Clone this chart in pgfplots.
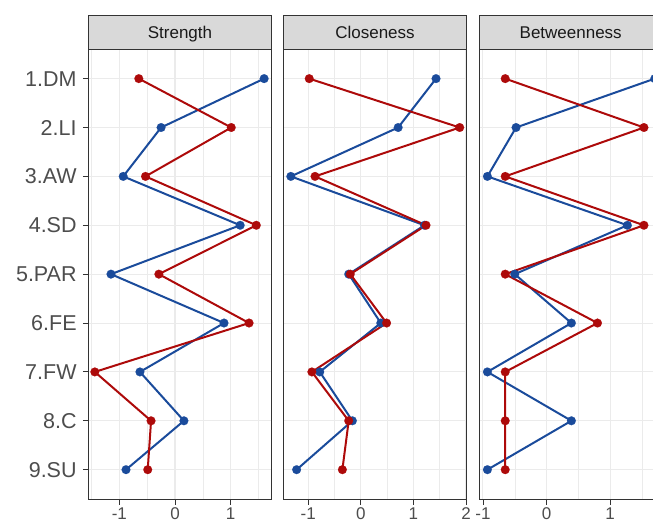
\documentclass[border=0pt]{standalone}
\usepackage{pgfplots}
\pgfplotsset{compat=1.18}
\usepackage{fontspec}
\setmainfont{Liberation Sans}

\definecolor{cblue}{HTML}{1A4B9B}
\definecolor{cred}{HTML}{AD0A0A}
\definecolor{gridc}{HTML}{EBEBEB}
\definecolor{framec}{HTML}{333333}
\definecolor{stripc}{HTML}{D9D9D9}
\definecolor{labc}{HTML}{4D4D4D}

\pgfplotsset{
  panel/.style={
    scale only axis, width=183.4pt, height=449.7pt,
    anchor=south west,
    ymin=0.4, ymax=9.6, y dir=reverse,
    ytick={1,...,9},
    grid=both,
    major grid style={gridc, line width=1.07pt},
    minor grid style={gridc, line width=0.53pt},
    axis line style={framec, line width=0.9pt},
    tick align=outside, xtick pos=left, ytick pos=left,
    major tick length=5.5pt, minor tick length=0pt,
    tick style={framec, line width=0.9pt},
    xticklabel style={font=\fontsize{17}{20}\selectfont, text=labc},
    yticklabel style={font=\fontsize{21.5}{24}\selectfont, text=labc, inner sep=0pt, xshift=-6pt},
    every axis title shift=0pt,
    title style={at={(0.5,1)}, anchor=south, yshift=0pt, fill=stripc, draw=framec,
      line width=0.9pt, minimum width=183.4pt, minimum height=33.6pt,
      text height=12.2pt, text depth=0pt,
      inner sep=0pt, outer sep=0pt, font=\fontsize{17}{20}\selectfont, text=black!90},
  },
  ln/.style={mark=none, line width=2pt},
  pt/.style={only marks, mark=*, mark size=4.4pt, mark options={line width=0.1pt}},
}

\begin{document}
\begin{tikzpicture}
\path[use as bounding box, clip] (0,0) rectangle (653pt,522pt);

% Strength
\begin{axis}[panel, at={(88.3pt,23pt)}, title={Strength},
    xmin=-1.557, xmax=1.736,
    xtick={-1,0,1}, xticklabels={-1,0,1},
    minor xtick={-1.5,-0.5,0.5,1.5},
    yticklabels={1.DM,2.LI,3.AW,4.SD,5.PAR,6.FE,7.FW,8.C,9.SU}]
\addplot[ln, cblue] coordinates {(1.60,1) (-0.25,2) (-0.93,3) (1.17,4) (-1.15,5) (0.88,6) (-0.63,7) (0.16,8) (-0.88,9)};
\addplot[ln, cred] coordinates {(-0.65,1) (1.01,2) (-0.53,3) (1.46,4) (-0.29,5) (1.33,6) (-1.44,7) (-0.43,8) (-0.49,9)};
\addplot[pt, cblue] coordinates {(1.60,1) (-0.25,2) (-0.93,3) (1.17,4) (-1.15,5) (0.88,6) (-0.63,7) (0.16,8) (-0.88,9)};
\addplot[pt, cred] coordinates {(-0.65,1) (1.01,2) (-0.53,3) (1.46,4) (-0.29,5) (1.33,6) (-1.44,7) (-0.43,8) (-0.49,9)};
\end{axis}

% Closeness
\begin{axis}[panel, at={(283.3pt,23pt)}, title={Closeness},
    xmin=-1.473, xmax=2.013,
    xtick={-1,0,1,2}, xticklabels={-1,0,1,2},
    minor xtick={-0.5,0.5,1.5},
    yticklabels={}, ytick style={draw=none}]
\addplot[ln, cblue] coordinates {(1.43,1) (0.71,2) (-1.33,3) (1.21,4) (-0.23,5) (0.38,6) (-0.78,7) (-0.16,8) (-1.22,9)};
\addplot[ln, cred] coordinates {(-0.98,1) (1.88,2) (-0.87,3) (1.24,4) (-0.20,5) (0.49,6) (-0.93,7) (-0.23,8) (-0.35,9)};
\addplot[pt, cblue] coordinates {(1.43,1) (0.71,2) (-1.33,3) (1.21,4) (-0.23,5) (0.38,6) (-0.78,7) (-0.16,8) (-1.22,9)};
\addplot[pt, cred] coordinates {(-0.98,1) (1.88,2) (-0.87,3) (1.24,4) (-0.20,5) (0.49,6) (-0.93,7) (-0.23,8) (-0.35,9)};
\end{axis}

% Betweenness
\begin{axis}[panel, at={(479pt,23pt)}, title={Betweenness},
    xmin=-1.062, xmax=1.82,
    xtick={-1,0,1}, xticklabels={-1,0,1},
    minor xtick={-0.5,0.5,1.5},
    yticklabels={}, ytick style={draw=none}]
\addplot[ln, cblue] coordinates {(1.70,1) (-0.48,2) (-0.93,3) (1.27,4) (-0.50,5) (0.39,6) (-0.93,7) (0.39,8) (-0.93,9)};
\addplot[ln, cred] coordinates {(-0.65,1) (1.53,2) (-0.65,3) (1.53,4) (-0.65,5) (0.80,6) (-0.65,7) (-0.65,8) (-0.65,9)};
\addplot[pt, cblue] coordinates {(1.70,1) (-0.48,2) (-0.93,3) (1.27,4) (-0.50,5) (0.39,6) (-0.93,7) (0.39,8) (-0.93,9)};
\addplot[pt, cred] coordinates {(-0.65,1) (1.53,2) (-0.65,3) (1.53,4) (-0.65,5) (0.80,6) (-0.65,7) (-0.65,8) (-0.65,9)};
\end{axis}
\end{tikzpicture}
\end{document}
